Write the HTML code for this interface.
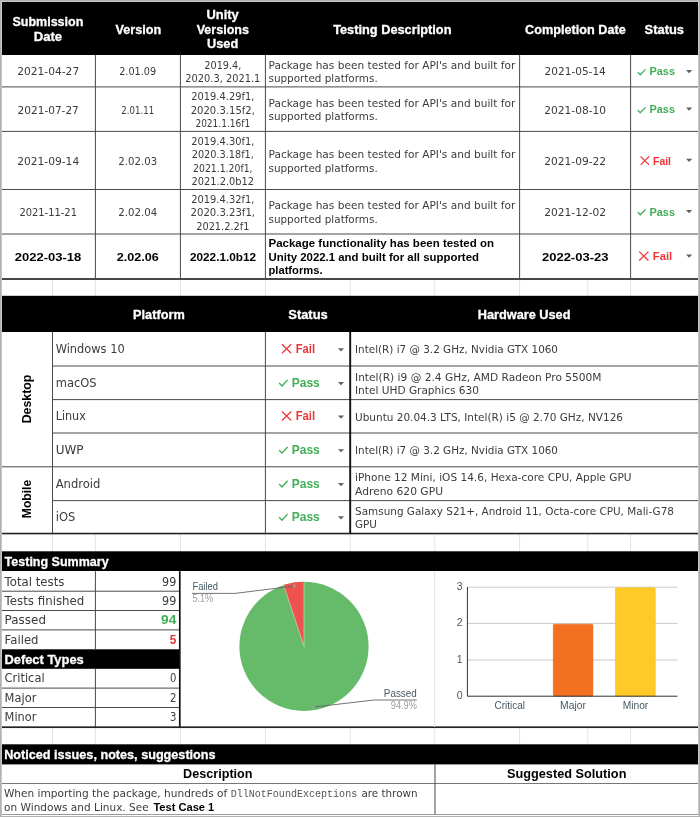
<!DOCTYPE html>
<html lang="en"><head><meta charset="utf-8"><title>Package Test Report</title>
<style>html,body{margin:0;padding:0;background:#b1b1b1}body{width:700px;height:817px;overflow:hidden}svg text{white-space:pre}</style>
</head><body>
<svg width="700" height="817" viewBox="0 0 700 817" style="display:block">
<rect x="0.00" y="0.00" width="700.00" height="817.00" fill="#b1b1b1" />
<rect x="1.00" y="1.00" width="698.00" height="815.00" fill="#c6c6c6" />
<rect x="2.00" y="2.00" width="696.00" height="814.00" fill="#ffffff" />
<rect x="52.00" y="279.80" width="1.00" height="16.20" fill="#e3e3e3" />
<rect x="94.90" y="279.80" width="1.00" height="16.20" fill="#e3e3e3" />
<rect x="179.90" y="279.80" width="1.00" height="16.20" fill="#e3e3e3" />
<rect x="264.90" y="279.80" width="1.00" height="16.20" fill="#e3e3e3" />
<rect x="349.70" y="279.80" width="1.00" height="16.20" fill="#e3e3e3" />
<rect x="434.30" y="279.80" width="1.00" height="16.20" fill="#e3e3e3" />
<rect x="519.10" y="279.80" width="1.00" height="16.20" fill="#e3e3e3" />
<rect x="587.30" y="279.80" width="1.00" height="16.20" fill="#e3e3e3" />
<rect x="630.10" y="279.80" width="1.00" height="16.20" fill="#e3e3e3" />
<rect x="52.00" y="534.30" width="1.00" height="17.00" fill="#e3e3e3" />
<rect x="94.90" y="534.30" width="1.00" height="17.00" fill="#e3e3e3" />
<rect x="179.90" y="534.30" width="1.00" height="17.00" fill="#e3e3e3" />
<rect x="264.90" y="534.30" width="1.00" height="17.00" fill="#e3e3e3" />
<rect x="349.70" y="534.30" width="1.00" height="17.00" fill="#e3e3e3" />
<rect x="434.30" y="534.30" width="1.00" height="17.00" fill="#e3e3e3" />
<rect x="519.10" y="534.30" width="1.00" height="17.00" fill="#e3e3e3" />
<rect x="587.30" y="534.30" width="1.00" height="17.00" fill="#e3e3e3" />
<rect x="630.10" y="534.30" width="1.00" height="17.00" fill="#e3e3e3" />
<rect x="52.00" y="727.80" width="1.00" height="16.50" fill="#e3e3e3" />
<rect x="94.90" y="727.80" width="1.00" height="16.50" fill="#e3e3e3" />
<rect x="179.90" y="727.80" width="1.00" height="16.50" fill="#e3e3e3" />
<rect x="264.90" y="727.80" width="1.00" height="16.50" fill="#e3e3e3" />
<rect x="349.70" y="727.80" width="1.00" height="16.50" fill="#e3e3e3" />
<rect x="434.30" y="727.80" width="1.00" height="16.50" fill="#e3e3e3" />
<rect x="519.10" y="727.80" width="1.00" height="16.50" fill="#e3e3e3" />
<rect x="587.30" y="727.80" width="1.00" height="16.50" fill="#e3e3e3" />
<rect x="630.10" y="727.80" width="1.00" height="16.50" fill="#e3e3e3" />
<rect x="2.00" y="2.00" width="696.00" height="53.00" fill="#000" />
<text x="47.90" y="26.10" font-family="'Liberation Sans','DejaVu Sans',sans-serif" font-size="12.5" font-weight="bold" fill="#fff" text-anchor="middle" textLength="70.9" lengthAdjust="spacingAndGlyphs" stroke="#fff" stroke-width="0.3">Submission</text>
<text x="47.90" y="40.70" font-family="'Liberation Sans','DejaVu Sans',sans-serif" font-size="12.5" font-weight="bold" fill="#fff" text-anchor="middle" textLength="28.5" lengthAdjust="spacingAndGlyphs" stroke="#fff" stroke-width="0.3">Date</text>
<text x="138.40" y="33.70" font-family="'Liberation Sans','DejaVu Sans',sans-serif" font-size="12.5" font-weight="bold" fill="#fff" text-anchor="middle" textLength="45.8" lengthAdjust="spacingAndGlyphs" stroke="#fff" stroke-width="0.3">Version</text>
<text x="222.60" y="18.50" font-family="'Liberation Sans','DejaVu Sans',sans-serif" font-size="12.5" font-weight="bold" fill="#fff" text-anchor="middle" textLength="32.3" lengthAdjust="spacingAndGlyphs" stroke="#fff" stroke-width="0.3">Unity</text>
<text x="222.80" y="33.50" font-family="'Liberation Sans','DejaVu Sans',sans-serif" font-size="12.5" font-weight="bold" fill="#fff" text-anchor="middle" textLength="52.3" lengthAdjust="spacingAndGlyphs" stroke="#fff" stroke-width="0.3">Versions</text>
<text x="222.60" y="48.40" font-family="'Liberation Sans','DejaVu Sans',sans-serif" font-size="12.5" font-weight="bold" fill="#fff" text-anchor="middle" textLength="31.2" lengthAdjust="spacingAndGlyphs" stroke="#fff" stroke-width="0.3">Used</text>
<text x="392.30" y="33.70" font-family="'Liberation Sans','DejaVu Sans',sans-serif" font-size="12.5" font-weight="bold" fill="#fff" text-anchor="middle" textLength="118.3" lengthAdjust="spacingAndGlyphs" stroke="#fff" stroke-width="0.3">Testing Description</text>
<text x="575.40" y="33.70" font-family="'Liberation Sans','DejaVu Sans',sans-serif" font-size="12.5" font-weight="bold" fill="#fff" text-anchor="middle" textLength="100.6" lengthAdjust="spacingAndGlyphs" stroke="#fff" stroke-width="0.3">Completion Date</text>
<text x="664.30" y="33.70" font-family="'Liberation Sans','DejaVu Sans',sans-serif" font-size="12.5" font-weight="bold" fill="#fff" text-anchor="middle" textLength="39.4" lengthAdjust="spacingAndGlyphs" stroke="#fff" stroke-width="0.3">Status</text>
<rect x="2.00" y="86.40" width="696.00" height="1.00" fill="#4a4a4a" />
<rect x="2.00" y="130.90" width="696.00" height="1.00" fill="#4a4a4a" />
<rect x="2.00" y="189.00" width="696.00" height="1.00" fill="#4a4a4a" />
<rect x="2.00" y="233.50" width="696.00" height="1.00" fill="#4a4a4a" />
<rect x="2.00" y="278.15" width="696.00" height="1.70" fill="#2a2a2a" />
<rect x="94.90" y="55.00" width="1.00" height="224.00" fill="#4a4a4a" />
<rect x="179.90" y="55.00" width="1.00" height="224.00" fill="#4a4a4a" />
<rect x="264.90" y="55.00" width="1.00" height="224.00" fill="#4a4a4a" />
<rect x="519.10" y="55.00" width="1.00" height="224.00" fill="#4a4a4a" />
<rect x="630.10" y="55.00" width="1.00" height="224.00" fill="#4a4a4a" />
<text x="48.20" y="75.42" font-family="'DejaVu Sans','Liberation Sans',sans-serif" font-size="10.6" fill="#3b3b3b" text-anchor="middle" textLength="62.0" lengthAdjust="spacingAndGlyphs" >2021-04-27</text>
<text x="137.70" y="75.42" font-family="'DejaVu Sans','Liberation Sans',sans-serif" font-size="10.6" fill="#3b3b3b" text-anchor="middle" textLength="37.0" lengthAdjust="spacingAndGlyphs" >2.01.09</text>
<text x="222.80" y="68.67" font-family="'DejaVu Sans','Liberation Sans',sans-serif" font-size="10.6" fill="#3b3b3b" text-anchor="middle" textLength="37.0" lengthAdjust="spacingAndGlyphs" >2019.4,</text>
<text x="222.80" y="82.17" font-family="'DejaVu Sans','Liberation Sans',sans-serif" font-size="10.6" fill="#3b3b3b" text-anchor="middle" textLength="75.0" lengthAdjust="spacingAndGlyphs" >2020.3, 2021.1</text>
<text x="268.50" y="68.67" font-family="'DejaVu Sans','Liberation Sans',sans-serif" font-size="10.6" fill="#3b3b3b" textLength="246.8" lengthAdjust="spacingAndGlyphs" >Package has been tested for API's and built for</text>
<text x="268.50" y="82.17" font-family="'DejaVu Sans','Liberation Sans',sans-serif" font-size="10.6" fill="#3b3b3b" textLength="109.2" lengthAdjust="spacingAndGlyphs" >supported platforms.</text>
<text x="575.20" y="75.42" font-family="'DejaVu Sans','Liberation Sans',sans-serif" font-size="10.6" fill="#3b3b3b" text-anchor="middle" textLength="61.2" lengthAdjust="spacingAndGlyphs" >2021-05-14</text>
<path d="M637.8 72.10 L640.2 74.70 L645.5 69.40" fill="none" stroke="#3fae55" stroke-width="1.3"/>
<text x="649.50" y="75.40" font-family="'Liberation Sans','DejaVu Sans',sans-serif" font-size="10.4" font-weight="bold" fill="#3fae55" textLength="25.5" lengthAdjust="spacingAndGlyphs" >Pass</text>
<path d="M686.00 70.00 h6.2 l-3.1 3.2 z" fill="#626262"/>
<text x="48.20" y="113.62" font-family="'DejaVu Sans','Liberation Sans',sans-serif" font-size="10.6" fill="#3b3b3b" text-anchor="middle" textLength="61.2" lengthAdjust="spacingAndGlyphs" >2021-07-27</text>
<text x="137.70" y="113.62" font-family="'DejaVu Sans','Liberation Sans',sans-serif" font-size="10.6" fill="#3b3b3b" text-anchor="middle" textLength="32.8" lengthAdjust="spacingAndGlyphs" >2.01.11</text>
<text x="222.80" y="100.12" font-family="'DejaVu Sans','Liberation Sans',sans-serif" font-size="10.6" fill="#3b3b3b" text-anchor="middle" textLength="63.0" lengthAdjust="spacingAndGlyphs" >2019.4.29f1,</text>
<text x="222.80" y="113.62" font-family="'DejaVu Sans','Liberation Sans',sans-serif" font-size="10.6" fill="#3b3b3b" text-anchor="middle" textLength="64.2" lengthAdjust="spacingAndGlyphs" >2020.3.15f2,</text>
<text x="222.80" y="127.12" font-family="'DejaVu Sans','Liberation Sans',sans-serif" font-size="10.6" fill="#3b3b3b" text-anchor="middle" textLength="54.8" lengthAdjust="spacingAndGlyphs" >2021.1.16f1</text>
<text x="268.50" y="106.88" font-family="'DejaVu Sans','Liberation Sans',sans-serif" font-size="10.6" fill="#3b3b3b" textLength="246.8" lengthAdjust="spacingAndGlyphs" >Package has been tested for API's and built for</text>
<text x="268.50" y="120.38" font-family="'DejaVu Sans','Liberation Sans',sans-serif" font-size="10.6" fill="#3b3b3b" textLength="109.2" lengthAdjust="spacingAndGlyphs" >supported platforms.</text>
<text x="575.20" y="113.62" font-family="'DejaVu Sans','Liberation Sans',sans-serif" font-size="10.6" fill="#3b3b3b" text-anchor="middle" textLength="61.8" lengthAdjust="spacingAndGlyphs" >2021-08-10</text>
<path d="M637.8 110.10 L640.2 112.70 L645.5 107.40" fill="none" stroke="#3fae55" stroke-width="1.3"/>
<text x="649.50" y="113.40" font-family="'Liberation Sans','DejaVu Sans',sans-serif" font-size="10.4" font-weight="bold" fill="#3fae55" textLength="25.5" lengthAdjust="spacingAndGlyphs" >Pass</text>
<path d="M686.00 107.60 h6.2 l-3.1 3.2 z" fill="#626262"/>
<text x="48.20" y="164.92" font-family="'DejaVu Sans','Liberation Sans',sans-serif" font-size="10.6" fill="#3b3b3b" text-anchor="middle" textLength="62.0" lengthAdjust="spacingAndGlyphs" >2021-09-14</text>
<text x="137.70" y="164.92" font-family="'DejaVu Sans','Liberation Sans',sans-serif" font-size="10.6" fill="#3b3b3b" text-anchor="middle" textLength="38.8" lengthAdjust="spacingAndGlyphs" >2.02.03</text>
<text x="222.80" y="144.67" font-family="'DejaVu Sans','Liberation Sans',sans-serif" font-size="10.6" fill="#3b3b3b" text-anchor="middle" textLength="63.2" lengthAdjust="spacingAndGlyphs" >2019.4.30f1,</text>
<text x="222.80" y="158.17" font-family="'DejaVu Sans','Liberation Sans',sans-serif" font-size="10.6" fill="#3b3b3b" text-anchor="middle" textLength="62.2" lengthAdjust="spacingAndGlyphs" >2020.3.18f1,</text>
<text x="222.80" y="171.67" font-family="'DejaVu Sans','Liberation Sans',sans-serif" font-size="10.6" fill="#3b3b3b" text-anchor="middle" textLength="59.5" lengthAdjust="spacingAndGlyphs" >2021.1.20f1,</text>
<text x="222.80" y="185.17" font-family="'DejaVu Sans','Liberation Sans',sans-serif" font-size="10.6" fill="#3b3b3b" text-anchor="middle" textLength="62.5" lengthAdjust="spacingAndGlyphs" >2021.2.0b12</text>
<text x="268.50" y="158.17" font-family="'DejaVu Sans','Liberation Sans',sans-serif" font-size="10.6" fill="#3b3b3b" textLength="246.8" lengthAdjust="spacingAndGlyphs" >Package has been tested for API's and built for</text>
<text x="268.50" y="171.67" font-family="'DejaVu Sans','Liberation Sans',sans-serif" font-size="10.6" fill="#3b3b3b" textLength="109.2" lengthAdjust="spacingAndGlyphs" >supported platforms.</text>
<text x="575.20" y="164.92" font-family="'DejaVu Sans','Liberation Sans',sans-serif" font-size="10.6" fill="#3b3b3b" text-anchor="middle" textLength="61.8" lengthAdjust="spacingAndGlyphs" >2021-09-22</text>
<path d="M640.6 156.50 l8.5 8.3 m0 -8.3 l-8.5 8.3" fill="none" stroke="#ee3434" stroke-width="1.1"/>
<text x="653.00" y="164.50" font-family="'Liberation Sans','DejaVu Sans',sans-serif" font-size="10.4" font-weight="bold" fill="#ee3434" textLength="18.0" lengthAdjust="spacingAndGlyphs" >Fail</text>
<path d="M686.00 158.80 h6.2 l-3.1 3.2 z" fill="#626262"/>
<text x="48.20" y="216.22" font-family="'DejaVu Sans','Liberation Sans',sans-serif" font-size="10.6" fill="#3b3b3b" text-anchor="middle" textLength="57.5" lengthAdjust="spacingAndGlyphs" >2021-11-21</text>
<text x="137.70" y="216.22" font-family="'DejaVu Sans','Liberation Sans',sans-serif" font-size="10.6" fill="#3b3b3b" text-anchor="middle" textLength="38.8" lengthAdjust="spacingAndGlyphs" >2.02.04</text>
<text x="222.80" y="202.72" font-family="'DejaVu Sans','Liberation Sans',sans-serif" font-size="10.6" fill="#3b3b3b" text-anchor="middle" textLength="63.2" lengthAdjust="spacingAndGlyphs" >2019.4.32f1,</text>
<text x="222.80" y="216.22" font-family="'DejaVu Sans','Liberation Sans',sans-serif" font-size="10.6" fill="#3b3b3b" text-anchor="middle" textLength="64.5" lengthAdjust="spacingAndGlyphs" >2020.3.23f1,</text>
<text x="222.80" y="229.72" font-family="'DejaVu Sans','Liberation Sans',sans-serif" font-size="10.6" fill="#3b3b3b" text-anchor="middle" textLength="53.2" lengthAdjust="spacingAndGlyphs" >2021.2.2f1</text>
<text x="268.50" y="209.47" font-family="'DejaVu Sans','Liberation Sans',sans-serif" font-size="10.6" fill="#3b3b3b" textLength="246.8" lengthAdjust="spacingAndGlyphs" >Package has been tested for API's and built for</text>
<text x="268.50" y="222.97" font-family="'DejaVu Sans','Liberation Sans',sans-serif" font-size="10.6" fill="#3b3b3b" textLength="109.2" lengthAdjust="spacingAndGlyphs" >supported platforms.</text>
<text x="575.20" y="216.22" font-family="'DejaVu Sans','Liberation Sans',sans-serif" font-size="10.6" fill="#3b3b3b" text-anchor="middle" textLength="61.8" lengthAdjust="spacingAndGlyphs" >2021-12-02</text>
<path d="M637.8 212.20 L640.2 214.80 L645.5 209.50" fill="none" stroke="#3fae55" stroke-width="1.3"/>
<text x="649.50" y="215.50" font-family="'Liberation Sans','DejaVu Sans',sans-serif" font-size="10.4" font-weight="bold" fill="#3fae55" textLength="25.5" lengthAdjust="spacingAndGlyphs" >Pass</text>
<path d="M686.00 210.10 h6.2 l-3.1 3.2 z" fill="#626262"/>
<text x="48.00" y="260.98" font-family="'Liberation Sans','DejaVu Sans',sans-serif" font-size="11.2" font-weight="bold" fill="#000" text-anchor="middle" textLength="66.4" lengthAdjust="spacingAndGlyphs" >2022-03-18</text>
<text x="137.80" y="260.98" font-family="'Liberation Sans','DejaVu Sans',sans-serif" font-size="11.2" font-weight="bold" fill="#000" text-anchor="middle" textLength="42.0" lengthAdjust="spacingAndGlyphs" >2.02.06</text>
<text x="223.00" y="260.98" font-family="'Liberation Sans','DejaVu Sans',sans-serif" font-size="11.2" font-weight="bold" fill="#000" text-anchor="middle" textLength="66.0" lengthAdjust="spacingAndGlyphs" >2022.1.0b12</text>
<text x="268.50" y="247.48" font-family="'Liberation Sans','DejaVu Sans',sans-serif" font-size="11.2" font-weight="bold" fill="#000" textLength="225.5" lengthAdjust="spacingAndGlyphs" >Package functionality has been tested on</text>
<text x="268.50" y="260.98" font-family="'Liberation Sans','DejaVu Sans',sans-serif" font-size="11.2" font-weight="bold" fill="#000" textLength="210.5" lengthAdjust="spacingAndGlyphs" >Unity 2022.1 and built for all supported</text>
<text x="268.50" y="274.48" font-family="'Liberation Sans','DejaVu Sans',sans-serif" font-size="11.2" font-weight="bold" fill="#000" textLength="54.0" lengthAdjust="spacingAndGlyphs" >platforms.</text>
<text x="575.20" y="260.98" font-family="'Liberation Sans','DejaVu Sans',sans-serif" font-size="11.2" font-weight="bold" fill="#000" text-anchor="middle" textLength="66.4" lengthAdjust="spacingAndGlyphs" >2022-03-23</text>
<path d="M639.2 251.60 l9.2 8.9 m0 -8.9 l-9.2 8.9" fill="none" stroke="#ee3434" stroke-width="1.2"/>
<text x="652.80" y="260.20" font-family="'Liberation Sans','DejaVu Sans',sans-serif" font-size="11.7" font-weight="bold" fill="#ee3434" textLength="19.4" lengthAdjust="spacingAndGlyphs" >Fail</text>
<path d="M686.00 254.50 h6.2 l-3.1 3.2 z" fill="#626262"/>
<rect x="2.00" y="295.80" width="696.00" height="36.20" fill="#000" />
<text x="158.90" y="318.60" font-family="'Liberation Sans','DejaVu Sans',sans-serif" font-size="12.5" font-weight="bold" fill="#fff" text-anchor="middle" textLength="51.6" lengthAdjust="spacingAndGlyphs" stroke="#fff" stroke-width="0.3">Platform</text>
<text x="308.00" y="318.60" font-family="'Liberation Sans','DejaVu Sans',sans-serif" font-size="12.5" font-weight="bold" fill="#fff" text-anchor="middle" textLength="39.4" lengthAdjust="spacingAndGlyphs" stroke="#fff" stroke-width="0.3">Status</text>
<text x="524.10" y="318.60" font-family="'Liberation Sans','DejaVu Sans',sans-serif" font-size="12.5" font-weight="bold" fill="#fff" text-anchor="middle" textLength="92.7" lengthAdjust="spacingAndGlyphs" stroke="#fff" stroke-width="0.3">Hardware Used</text>
<rect x="52.50" y="365.50" width="645.50" height="1.00" fill="#4a4a4a" />
<rect x="52.50" y="399.10" width="645.50" height="1.00" fill="#4a4a4a" />
<rect x="52.50" y="432.50" width="645.50" height="1.00" fill="#4a4a4a" />
<rect x="52.50" y="466.30" width="645.50" height="1.00" fill="#4a4a4a" />
<rect x="52.50" y="500.10" width="645.50" height="1.00" fill="#4a4a4a" />
<rect x="2.00" y="466.30" width="50.50" height="1.00" fill="#4a4a4a" />
<rect x="2.00" y="532.75" width="696.00" height="1.60" fill="#222" />
<rect x="52.00" y="332.00" width="1.00" height="201.40" fill="#4a4a4a" />
<rect x="264.90" y="332.00" width="1.00" height="201.40" fill="#4a4a4a" />
<rect x="349.25" y="332.00" width="1.90" height="201.40" fill="#111" />
<text x="55.70" y="353.00" font-family="'DejaVu Sans','Liberation Sans',sans-serif" font-size="12" fill="#3b3b3b" textLength="69.0" lengthAdjust="spacingAndGlyphs" >Windows 10</text>
<path d="M282 344.20 l9.2 9 m0 -9 l-9.2 9" fill="none" stroke="#ee3434" stroke-width="1.2"/>
<text x="295.70" y="352.90" font-family="'Liberation Sans','DejaVu Sans',sans-serif" font-size="12" font-weight="bold" fill="#ee3434" textLength="19.4" lengthAdjust="spacingAndGlyphs" >Fail</text>
<path d="M337.90 348.25 h6.2 l-3.1 3.2 z" fill="#626262"/>
<text x="355.00" y="353.48" font-family="'DejaVu Sans','Liberation Sans',sans-serif" font-size="10.6" fill="#3b3b3b" textLength="203.0" lengthAdjust="spacingAndGlyphs" >Intel(R) i7 @ 3.2 GHz, Nvidia GTX 1060</text>
<text x="55.70" y="386.80" font-family="'DejaVu Sans','Liberation Sans',sans-serif" font-size="12" fill="#3b3b3b" textLength="40.9" lengthAdjust="spacingAndGlyphs" >macOS</text>
<path d="M279.2 383.10 L282 386.00 L287.6 379.90" fill="none" stroke="#3fae55" stroke-width="1.4"/>
<text x="291.80" y="386.70" font-family="'Liberation Sans','DejaVu Sans',sans-serif" font-size="12" font-weight="bold" fill="#3fae55" textLength="28.0" lengthAdjust="spacingAndGlyphs" >Pass</text>
<path d="M337.90 382.05 h6.2 l-3.1 3.2 z" fill="#626262"/>
<text x="355.00" y="380.53" font-family="'DejaVu Sans','Liberation Sans',sans-serif" font-size="10.6" fill="#3b3b3b" textLength="246.5" lengthAdjust="spacingAndGlyphs" >Intel(R) i9 @ 2.4 GHz, AMD Radeon Pro 5500M</text>
<text x="355.00" y="394.03" font-family="'DejaVu Sans','Liberation Sans',sans-serif" font-size="10.6" fill="#3b3b3b" textLength="124.0" lengthAdjust="spacingAndGlyphs" >Intel UHD Graphics 630</text>
<text x="55.70" y="420.30" font-family="'DejaVu Sans','Liberation Sans',sans-serif" font-size="12" fill="#3b3b3b" textLength="30.1" lengthAdjust="spacingAndGlyphs" >Linux</text>
<path d="M282 411.50 l9.2 9 m0 -9 l-9.2 9" fill="none" stroke="#ee3434" stroke-width="1.2"/>
<text x="295.70" y="420.20" font-family="'Liberation Sans','DejaVu Sans',sans-serif" font-size="12" font-weight="bold" fill="#ee3434" textLength="19.4" lengthAdjust="spacingAndGlyphs" >Fail</text>
<path d="M337.90 415.55 h6.2 l-3.1 3.2 z" fill="#626262"/>
<text x="355.00" y="420.78" font-family="'DejaVu Sans','Liberation Sans',sans-serif" font-size="10.6" fill="#3b3b3b" textLength="268.0" lengthAdjust="spacingAndGlyphs" >Ubuntu 20.04.3 LTS, Intel(R) i5 @ 2.70 GHz, NV126</text>
<text x="55.70" y="453.90" font-family="'DejaVu Sans','Liberation Sans',sans-serif" font-size="12" fill="#3b3b3b" textLength="27.9" lengthAdjust="spacingAndGlyphs" >UWP</text>
<path d="M279.2 450.20 L282 453.10 L287.6 447.00" fill="none" stroke="#3fae55" stroke-width="1.4"/>
<text x="291.80" y="453.80" font-family="'Liberation Sans','DejaVu Sans',sans-serif" font-size="12" font-weight="bold" fill="#3fae55" textLength="28.0" lengthAdjust="spacingAndGlyphs" >Pass</text>
<path d="M337.90 449.15 h6.2 l-3.1 3.2 z" fill="#626262"/>
<text x="355.00" y="454.38" font-family="'DejaVu Sans','Liberation Sans',sans-serif" font-size="10.6" fill="#3b3b3b" textLength="203.0" lengthAdjust="spacingAndGlyphs" >Intel(R) i7 @ 3.2 GHz, Nvidia GTX 1060</text>
<text x="55.70" y="487.70" font-family="'DejaVu Sans','Liberation Sans',sans-serif" font-size="12" fill="#3b3b3b" textLength="44.7" lengthAdjust="spacingAndGlyphs" >Android</text>
<path d="M279.2 484.00 L282 486.90 L287.6 480.80" fill="none" stroke="#3fae55" stroke-width="1.4"/>
<text x="291.80" y="487.60" font-family="'Liberation Sans','DejaVu Sans',sans-serif" font-size="12" font-weight="bold" fill="#3fae55" textLength="28.0" lengthAdjust="spacingAndGlyphs" >Pass</text>
<path d="M337.90 482.95 h6.2 l-3.1 3.2 z" fill="#626262"/>
<text x="355.00" y="481.43" font-family="'DejaVu Sans','Liberation Sans',sans-serif" font-size="10.6" fill="#3b3b3b" textLength="276.5" lengthAdjust="spacingAndGlyphs" >iPhone 12 Mini, iOS 14.6, Hexa-core CPU, Apple GPU</text>
<text x="355.00" y="494.93" font-family="'DejaVu Sans','Liberation Sans',sans-serif" font-size="10.6" fill="#3b3b3b" textLength="88.0" lengthAdjust="spacingAndGlyphs" >Adreno 620 GPU</text>
<text x="55.70" y="521.05" font-family="'DejaVu Sans','Liberation Sans',sans-serif" font-size="12" fill="#3b3b3b" textLength="19.6" lengthAdjust="spacingAndGlyphs" >iOS</text>
<path d="M279.2 517.35 L282 520.25 L287.6 514.15" fill="none" stroke="#3fae55" stroke-width="1.4"/>
<text x="291.80" y="520.95" font-family="'Liberation Sans','DejaVu Sans',sans-serif" font-size="12" font-weight="bold" fill="#3fae55" textLength="28.0" lengthAdjust="spacingAndGlyphs" >Pass</text>
<path d="M337.90 516.30 h6.2 l-3.1 3.2 z" fill="#626262"/>
<text x="355.00" y="514.77" font-family="'DejaVu Sans','Liberation Sans',sans-serif" font-size="10.6" fill="#3b3b3b" textLength="319.0" lengthAdjust="spacingAndGlyphs" >Samsung Galaxy S21+, Android 11, Octa-core CPU, Mali-G78</text>
<text x="355.00" y="528.27" font-family="'DejaVu Sans','Liberation Sans',sans-serif" font-size="10.6" fill="#3b3b3b" textLength="22.0" lengthAdjust="spacingAndGlyphs" >GPU</text>
<text transform="translate(31.3,399) rotate(-90)" font-family="'Liberation Sans','DejaVu Sans',sans-serif" font-size="12.5" font-weight="bold" fill="#000" text-anchor="middle" textLength="48.6" lengthAdjust="spacingAndGlyphs">Desktop</text>
<text transform="translate(31.3,499) rotate(-90)" font-family="'Liberation Sans','DejaVu Sans',sans-serif" font-size="12.5" font-weight="bold" fill="#000" text-anchor="middle" textLength="38.4" lengthAdjust="spacingAndGlyphs">Mobile</text>
<rect x="2.00" y="551.30" width="696.00" height="19.70" fill="#000" />
<text x="4.60" y="566.30" font-family="'Liberation Sans','DejaVu Sans',sans-serif" font-size="12.8" font-weight="bold" fill="#fff" textLength="104.0" lengthAdjust="spacingAndGlyphs" stroke="#fff" stroke-width="0.3">Testing Summary</text>
<rect x="2.00" y="649.30" width="177.80" height="19.50" fill="#000" />
<text x="4.40" y="663.50" font-family="'Liberation Sans','DejaVu Sans',sans-serif" font-size="12.8" font-weight="bold" fill="#fff" textLength="79.4" lengthAdjust="spacingAndGlyphs" stroke="#fff" stroke-width="0.3">Defect Types</text>
<rect x="2.00" y="590.70" width="177.80" height="1.00" fill="#4a4a4a" />
<rect x="2.00" y="610.00" width="177.80" height="1.00" fill="#4a4a4a" />
<rect x="2.00" y="629.40" width="177.80" height="1.00" fill="#4a4a4a" />
<rect x="2.00" y="687.60" width="177.80" height="1.00" fill="#4a4a4a" />
<rect x="2.00" y="707.00" width="177.80" height="1.00" fill="#4a4a4a" />
<rect x="94.90" y="571.20" width="1.00" height="78.10" fill="#4a4a4a" />
<rect x="94.90" y="668.80" width="1.00" height="58.20" fill="#4a4a4a" />
<rect x="178.95" y="571.20" width="1.70" height="155.80" fill="#111" />
<rect x="2.00" y="726.35" width="696.00" height="1.70" fill="#222" />
<rect x="434.10" y="571.20" width="1.00" height="155.80" fill="#e3e3e3" />
<text x="4.60" y="585.50" font-family="'DejaVu Sans','Liberation Sans',sans-serif" font-size="12.3" fill="#3b3b3b" textLength="59.8" lengthAdjust="spacingAndGlyphs" >Total tests</text>
<text x="176.40" y="585.50" font-family="'DejaVu Sans','Liberation Sans',sans-serif" font-size="12.3" fill="#3b3b3b" text-anchor="end" textLength="14.3" lengthAdjust="spacingAndGlyphs" >99</text>
<text x="4.60" y="604.80" font-family="'DejaVu Sans','Liberation Sans',sans-serif" font-size="12.3" fill="#3b3b3b" textLength="79.7" lengthAdjust="spacingAndGlyphs" >Tests finished</text>
<text x="176.40" y="604.80" font-family="'DejaVu Sans','Liberation Sans',sans-serif" font-size="12.3" fill="#3b3b3b" text-anchor="end" textLength="14.3" lengthAdjust="spacingAndGlyphs" >99</text>
<text x="4.60" y="624.20" font-family="'DejaVu Sans','Liberation Sans',sans-serif" font-size="12.3" fill="#3b3b3b" textLength="41.4" lengthAdjust="spacingAndGlyphs" >Passed</text>
<text x="176.40" y="624.20" font-family="'Liberation Sans','DejaVu Sans',sans-serif" font-size="12.3" font-weight="bold" fill="#3fae55" text-anchor="end" textLength="15.3" lengthAdjust="spacingAndGlyphs" >94</text>
<text x="4.60" y="643.60" font-family="'DejaVu Sans','Liberation Sans',sans-serif" font-size="12.3" fill="#3b3b3b" textLength="33.9" lengthAdjust="spacingAndGlyphs" >Failed</text>
<text x="176.40" y="643.60" font-family="'Liberation Sans','DejaVu Sans',sans-serif" font-size="12.3" font-weight="bold" fill="#ee3434" text-anchor="end" textLength="6.6" lengthAdjust="spacingAndGlyphs" >5</text>
<text x="4.60" y="682.40" font-family="'DejaVu Sans','Liberation Sans',sans-serif" font-size="12.3" fill="#3b3b3b" textLength="40.0" lengthAdjust="spacingAndGlyphs" >Critical</text>
<text x="176.40" y="682.40" font-family="'DejaVu Sans','Liberation Sans',sans-serif" font-size="12.3" fill="#3b3b3b" text-anchor="end" textLength="6.4" lengthAdjust="spacingAndGlyphs" >0</text>
<text x="4.60" y="701.80" font-family="'DejaVu Sans','Liberation Sans',sans-serif" font-size="12.3" fill="#3b3b3b" textLength="31.8" lengthAdjust="spacingAndGlyphs" >Major</text>
<text x="176.40" y="701.80" font-family="'DejaVu Sans','Liberation Sans',sans-serif" font-size="12.3" fill="#3b3b3b" text-anchor="end" textLength="6.4" lengthAdjust="spacingAndGlyphs" >2</text>
<text x="4.60" y="721.30" font-family="'DejaVu Sans','Liberation Sans',sans-serif" font-size="12.3" fill="#3b3b3b" textLength="31.8" lengthAdjust="spacingAndGlyphs" >Minor</text>
<text x="176.40" y="721.30" font-family="'DejaVu Sans','Liberation Sans',sans-serif" font-size="12.3" fill="#3b3b3b" text-anchor="end" textLength="6.4" lengthAdjust="spacingAndGlyphs" >3</text>
<circle cx="304" cy="646.4" r="64.6" fill="#66bb6a"/>
<path d="M304 646.4 L283.64 585.09 A64.6 64.6 0 0 1 304 581.8 Z" fill="#ef5350"/>
<path d="M304 646.4 L283.64 585.09 M304 646.4 L304 581.8" stroke="#fff" stroke-width="0.6" fill="none" opacity="0.7"/>
<path d="M192 593.4 H235 L294.4 586" fill="none" stroke="#636363" stroke-width="0.9"/>
<circle cx="294.4" cy="586" r="1.4" fill="#9e9e9e"/>
<text x="192.40" y="590.00" font-family="'Liberation Sans','DejaVu Sans',sans-serif" font-size="10.5" fill="#455a64" textLength="25.6" lengthAdjust="spacingAndGlyphs" >Failed</text>
<text x="192.40" y="602.40" font-family="'Liberation Sans','DejaVu Sans',sans-serif" font-size="10.5" fill="#9e9e9e" textLength="20.6" lengthAdjust="spacingAndGlyphs" >5.1%</text>
<path d="M416.8 700 H374 L313.6 707.1" fill="none" stroke="#636363" stroke-width="0.9"/>
<circle cx="313.6" cy="707.1" r="1.4" fill="#9e9e9e"/>
<text x="416.80" y="696.90" font-family="'Liberation Sans','DejaVu Sans',sans-serif" font-size="10.5" fill="#455a64" text-anchor="end" textLength="33.0" lengthAdjust="spacingAndGlyphs" >Passed</text>
<text x="416.80" y="709.20" font-family="'Liberation Sans','DejaVu Sans',sans-serif" font-size="10.5" fill="#9e9e9e" text-anchor="end" textLength="26.0" lengthAdjust="spacingAndGlyphs" >94.9%</text>
<rect x="467.40" y="659.50" width="210.10" height="1.00" fill="#cacaca" />
<rect x="467.40" y="622.90" width="210.10" height="1.00" fill="#cacaca" />
<rect x="467.40" y="586.70" width="210.10" height="1.00" fill="#cacaca" />
<rect x="553.30" y="624.20" width="39.60" height="72.00" fill="#f37021" rx="1.2" stroke="#e8590c" stroke-width="0.5"/>
<rect x="615.40" y="587.80" width="39.90" height="108.40" fill="#ffca28" rx="1.2" stroke="#f5b800" stroke-width="0.5"/>
<rect x="467.40" y="695.70" width="210.10" height="1.00" fill="#333" />
<rect x="466.90" y="587.00" width="1.00" height="109.20" fill="#333" />
<text x="462.60" y="699.00" font-family="'Liberation Sans','DejaVu Sans',sans-serif" font-size="10.5" fill="#455a64" text-anchor="end" >0</text>
<text x="462.60" y="662.80" font-family="'Liberation Sans','DejaVu Sans',sans-serif" font-size="10.5" fill="#455a64" text-anchor="end" >1</text>
<text x="462.60" y="626.20" font-family="'Liberation Sans','DejaVu Sans',sans-serif" font-size="10.5" fill="#455a64" text-anchor="end" >2</text>
<text x="462.60" y="590.00" font-family="'Liberation Sans','DejaVu Sans',sans-serif" font-size="10.5" fill="#455a64" text-anchor="end" >3</text>
<text x="509.80" y="708.80" font-family="'Liberation Sans','DejaVu Sans',sans-serif" font-size="10.5" fill="#455a64" text-anchor="middle" textLength="30.5" lengthAdjust="spacingAndGlyphs" >Critical</text>
<text x="573.00" y="708.80" font-family="'Liberation Sans','DejaVu Sans',sans-serif" font-size="10.5" fill="#455a64" text-anchor="middle" textLength="25.8" lengthAdjust="spacingAndGlyphs" >Major</text>
<text x="635.50" y="708.80" font-family="'Liberation Sans','DejaVu Sans',sans-serif" font-size="10.5" fill="#455a64" text-anchor="middle" textLength="25.5" lengthAdjust="spacingAndGlyphs" >Minor</text>
<rect x="2.00" y="744.30" width="696.00" height="20.10" fill="#000" />
<text x="4.20" y="759.20" font-family="'Liberation Sans','DejaVu Sans',sans-serif" font-size="12.8" font-weight="bold" fill="#fff" textLength="211.4" lengthAdjust="spacingAndGlyphs" stroke="#fff" stroke-width="0.3">Noticed issues, notes, suggestions</text>
<rect x="2.00" y="783.00" width="696.00" height="1.00" fill="#777" />
<rect x="434.50" y="764.40" width="1.00" height="50.60" fill="#4a4a4a" />
<text x="217.80" y="777.70" font-family="'Liberation Sans','DejaVu Sans',sans-serif" font-size="12.5" font-weight="bold" fill="#000" text-anchor="middle" textLength="69.5" lengthAdjust="spacingAndGlyphs" >Description</text>
<text x="566.70" y="777.70" font-family="'Liberation Sans','DejaVu Sans',sans-serif" font-size="12.5" font-weight="bold" fill="#000" text-anchor="middle" textLength="119.4" lengthAdjust="spacingAndGlyphs" >Suggested Solution</text>
<text x="3.90" y="796.90" font-family="'DejaVu Sans','Liberation Sans',sans-serif" font-size="10.6" fill="#3b3b3b" textLength="223.3" lengthAdjust="spacingAndGlyphs" >When importing the package, hundreds of</text>
<text x="230.70" y="796.90" font-family="'Liberation Mono','DejaVu Sans Mono',monospace" font-size="10" fill="#555" textLength="126.5" lengthAdjust="spacingAndGlyphs" >DllNotFoundExceptions</text>
<text x="361.40" y="796.90" font-family="'DejaVu Sans','Liberation Sans',sans-serif" font-size="10.6" fill="#3b3b3b" textLength="56.2" lengthAdjust="spacingAndGlyphs" >are thrown</text>
<text x="4.10" y="810.50" font-family="'DejaVu Sans','Liberation Sans',sans-serif" font-size="10.6" fill="#3b3b3b" textLength="144.6" lengthAdjust="spacingAndGlyphs" >on Windows and Linux. See</text>
<text x="153.40" y="810.50" font-family="'Liberation Sans','DejaVu Sans',sans-serif" font-size="11.2" font-weight="bold" fill="#000" textLength="60.9" lengthAdjust="spacingAndGlyphs" >Test Case 1</text>
<rect x="2.00" y="814.00" width="696.00" height="1.00" fill="#9a9a9a" />
</svg>
</body></html>
